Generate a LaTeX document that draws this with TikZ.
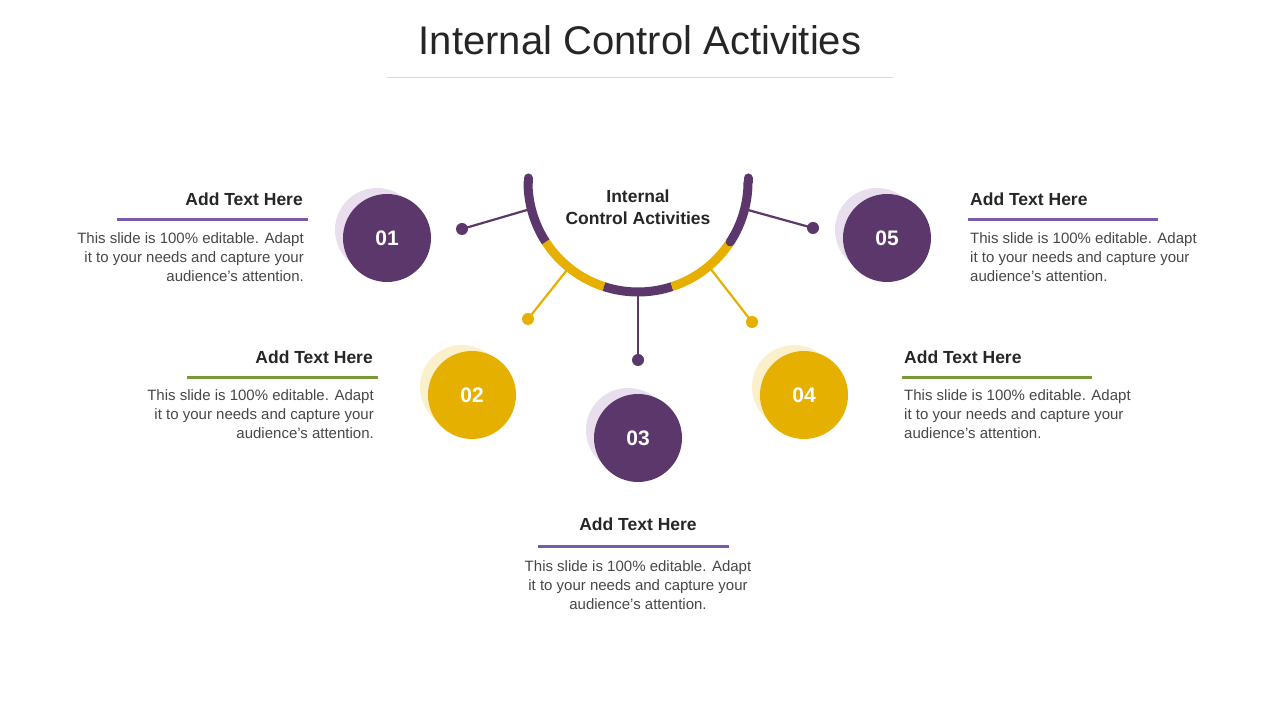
\documentclass[tikz,border=0pt]{standalone}
\usepackage{fontspec}
\setmainfont{Liberation Sans}
\definecolor{pur}{HTML}{5B376B}
\definecolor{yel}{HTML}{E6B000}
\definecolor{lpur}{HTML}{E8DEEE}
\definecolor{lyel}{HTML}{FBF0CC}
\definecolor{lineP}{HTML}{7A5AA8}
\definecolor{lineG}{HTML}{7A9A3A}
\definecolor{txt}{HTML}{262626}
\begin{document}
\begin{tikzpicture}[x=1pt,y=1pt,
  num/.style={circle,minimum size=88pt,inner sep=0pt,text=white,font=\bfseries\fontsize{21}{21}\selectfont},
  shad/.style={circle,minimum size=84pt,inner sep=0pt},
  dot/.style={circle,minimum size=12pt,inner sep=0pt},
  head/.style={font=\bfseries\fontsize{17.5}{20}\selectfont,text=txt,inner sep=0pt},
  body/.style={font=\fontsize{15}{19}\selectfont,text=txt!85,inner sep=0pt},
  spoke/.style={line width=2.2pt}]
\useasboundingbox (0,0) rectangle (1280,720);
\node[font=\fontsize{40}{40}\selectfont,text=txt] (title) at (640,680) {Internal Control Activities};
\draw[gray!30,line width=0.6pt] (387,643) -- (893,643);
% arc
\coordinate (c) at (638,538);
\begin{scope}[line width=9pt]
\draw[pur,line cap=round] ([shift={(180:110)}]c) arc (180:213:110);
\draw[yel] ([shift={(213:110)}]c) arc (213:252:110);
\draw[pur] ([shift={(252:110)}]c) arc (252:288:110);
\draw[yel] ([shift={(288:110)}]c) arc (288:327:110);
\draw[pur,line cap=round] ([shift={(327:110)}]c) arc (327:360:110);
\draw[pur,line cap=round] ([shift={(180:110)}]c) -- ++(0,4);
\draw[pur,line cap=round] ([shift={(360:110)}]c) -- ++(0,4);
\end{scope}
\node[font=\bfseries\fontsize{17.5}{22}\selectfont,text=txt,align=center] (ctr) at (638,513) {Internal\\Control Activities};
% spokes
\node[dot,fill=pur] (d1) at (462,491) {};
\node[dot,fill=pur] (d5) at (813,492) {};
\node[dot,fill=yel] (d2) at (528,401) {};
\node[dot,fill=yel] (d4) at (752,398) {};
\node[dot,fill=pur] (d3) at (638,360) {};
\coordinate (s1) at (527,510); \coordinate (s5) at (748,510);
\coordinate (s2) at (567,450); \coordinate (s4) at (710,452);
\coordinate (s3) at (638,428);
\draw[spoke,pur] (s1) -- (d1.center);
\draw[spoke,pur] (s5) -- (d5.center);
\draw[spoke,yel] (s2) -- (d2.center);
\draw[spoke,yel] (s4) -- (d4.center);
\draw[spoke,pur] (s3) -- (d3.center);
% circles
\node[shad,fill=lpur] at (377,490) {};
\node[num,fill=pur] (n1) at (387,482) {01};
\node[shad,fill=lyel] at (462,333) {};
\node[num,fill=yel] (n2) at (472,325) {02};
\node[shad,fill=lpur] at (628,290) {};
\node[num,fill=pur] (n3) at (638,282) {03};
\node[shad,fill=lyel] at (794,333) {};
\node[num,fill=yel] (n4) at (804,325) {04};
\node[shad,fill=lpur] at (877,490) {};
\node[num,fill=pur] (n5) at (887,482) {05};
% text blocks
\node[head,anchor=east] (h1) at (303,521) {Add Text Here};
\draw[lineP,line width=3pt] (117,500) -- (308,500);
\node[body,anchor=north east,align=right] (b1) at (304,488) {This slide is 100\% editable. Adapt\\it to your needs and capture your\\audience's attention.};
\node[head,anchor=east] (h2) at (373,363) {Add Text Here};
\draw[lineG,line width=3pt] (187,342) -- (378,342);
\node[body,anchor=north east,align=right] (b2) at (374,331) {This slide is 100\% editable. Adapt\\it to your needs and capture your\\audience's attention.};
\node[head] (h3) at (638,196) {Add Text Here};
\draw[lineP,line width=3pt] (538,173) -- (729,173);
\node[body,anchor=north,align=center] (b3) at (638,160) {This slide is 100\% editable. Adapt\\it to your needs and capture your\\audience's attention.};
\node[head,anchor=west] (h4) at (904,363) {Add Text Here};
\draw[lineG,line width=3pt] (902,342) -- (1092,342);
\node[body,anchor=north west,align=left] (b4) at (904,331) {This slide is 100\% editable. Adapt\\it to your needs and capture your\\audience's attention.};
\node[head,anchor=west] (h5) at (970,521) {Add Text Here};
\draw[lineP,line width=3pt] (968,500) -- (1158,500);
\node[body,anchor=north west,align=left] (b5) at (970,488) {This slide is 100\% editable. Adapt\\it to your needs and capture your\\audience's attention.};
\end{tikzpicture}
\end{document}
